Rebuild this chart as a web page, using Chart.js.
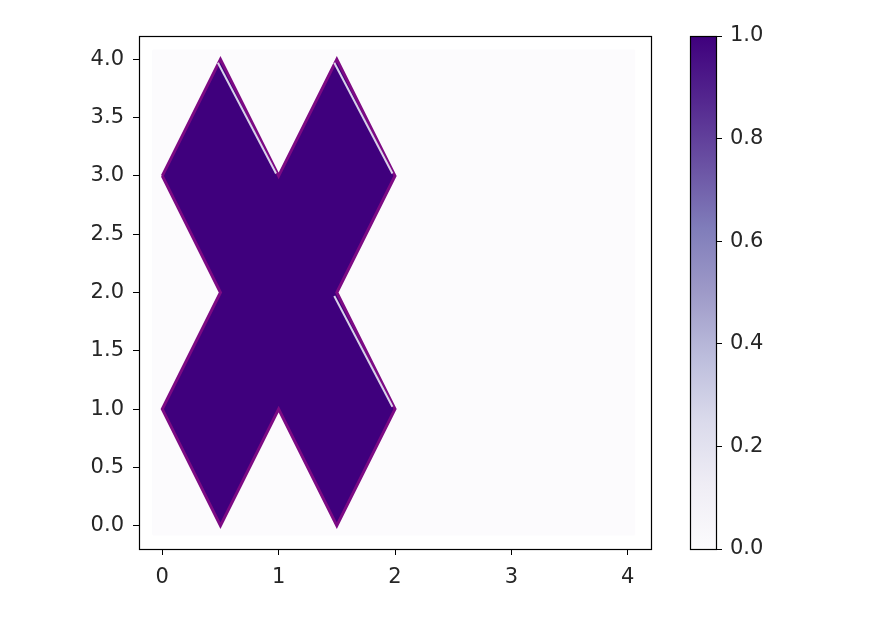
<!DOCTYPE html>
<html>
<head>
<meta charset="utf-8">
<script src="https://cdn.jsdelivr.net/npm/chart.js@4.4.0/dist/chart.umd.min.js"></script>
<style>
    html, body { margin: 0; padding: 0; background: #fff; }
    #wrap { position: relative; width: 877px; height: 625px; }
    canvas { position: absolute; top: 0; }
    #main { left: 0; }
    #cbar { left: 600px; }
</style>
</head>
<body>
<div id="wrap">
    <canvas id="main" width="877" height="625"></canvas>
    <canvas id="cbar" width="277" height="625"></canvas>
</div>
<script>
// X shape outline (data coords), walked round clockwise from the top-left corner
const shapeX = [0, 0.5, 1, 1.5, 2, 1.5, 2, 1.5, 1, 0.5, 0, 0.5, 0];
const shapeY = [3, 4, 3, 4, 3, 2, 1, 0, 1, 0, 1, 2, 3];

// field extent (value ~0 region)
const fieldX = [-0.08, 4.06, 4.06, -0.08, -0.08];
const fieldY = [-0.08, -0.08, 4.08, 4.08, -0.08];

// edges that show a pale highlight just inside the fill
const highlightEdges = [[1, 2], [3, 4], [5, 6]];

// tick positions / labels
const xTicks = [0, 1, 2, 3, 4];
const yTicks = [0, 0.5, 1, 1.5, 2, 2.5, 3, 3.5, 4];
const cbarTicks = [0, 0.2, 0.4, 0.6, 0.8, 1.0];

// Purples colormap
const purples = ['#fcfbfd', '#efedf5', '#dadaeb', '#bcbddc', '#9e9ac8', '#807dba', '#6a51a3', '#54278f', '#3f007d'];

const FONT = { family: 'DejaVu Sans', size: 21 };
const TEXT = '#262626';

function toPoints(xs, ys) {
    return xs.map(function(x, i) { return { x: x, y: ys[i] }; });
}

// highlight segments, nudged just inside the shape edge
const highlightSets = highlightEdges.map(function(e) {
    return {
        data: [
            { x: shapeX[e[0]] - 0.022, y: shapeY[e[0]] - 0.03 },
            { x: shapeX[e[1]] - 0.022, y: shapeY[e[1]] + 0.02 }
        ],
        order: 1,
        showLine: true,
        borderColor: 'rgba(225,222,240,0.95)',
        borderWidth: 2,
        pointRadius: 0,
        fill: false
    };
});

const framePlugin = {
    id: 'frame',
    afterDraw: function(chart) {
        const a = chart.chartArea;
        const ctx = chart.ctx;
        ctx.save();
        ctx.strokeStyle = '#000';
        ctx.lineWidth = 1.2;
        ctx.strokeRect(Math.round(a.left) + 0.5, Math.round(a.top) + 0.5,
            Math.round(a.right - a.left), Math.round(a.bottom - a.top));
        ctx.restore();
    }
};

new Chart(document.getElementById('main'), {
    type: 'scatter',
    data: {
        datasets: [
            {
                data: toPoints(fieldX, fieldY),
                order: 10,
                showLine: true,
                fill: 'shape',
                backgroundColor: purples[0],
                borderColor: purples[0],
                borderWidth: 1,
                pointRadius: 0
            },
            {
                data: toPoints(shapeX, shapeY),
                order: 5,
                showLine: true,
                fill: 'shape',
                backgroundColor: purples[8],
                borderColor: '#7d0a84',
                borderWidth: 3,
                pointRadius: 0
            }
        ].concat(highlightSets)
    },
    options: {
        responsive: false,
        animation: false,
        layout: { padding: { left: 0, top: 36, right: 226, bottom: 0 } },
        plugins: { legend: { display: false }, tooltip: { enabled: false } },
        scales: {
            x: {
                type: 'linear',
                min: -0.2,
                max: 4.2,
                afterBuildTicks: function(scale) {
                    scale.ticks = xTicks.map(function(v) { return { value: v }; });
                },
                afterFit: function(scale) { scale.height = 76; },
                ticks: {
                    font: FONT,
                    color: TEXT,
                    padding: 10,
                    maxRotation: 0,
                    callback: function(v) { return String(v); }
                },
                grid: { drawOnChartArea: false, tickLength: 6, tickColor: '#000', tickWidth: 1 },
                border: { display: true, color: '#000', width: 1 }
            },
            y: {
                type: 'linear',
                min: -0.2,
                max: 4.2,
                afterBuildTicks: function(scale) {
                    scale.ticks = yTicks.map(function(v) { return { value: v }; });
                },
                afterFit: function(scale) { scale.width = 139; },
                ticks: {
                    font: FONT,
                    color: TEXT,
                    padding: 9,
                    callback: function(v) { return Number(v).toFixed(1); }
                },
                grid: { drawOnChartArea: false, tickLength: 6, tickColor: '#000', tickWidth: 1 },
                border: { display: true, color: '#000', width: 1 }
            }
        }
    },
    plugins: [framePlugin]
});

const gradientPlugin = {
    id: 'cmap',
    beforeDatasetsDraw: function(chart) {
        const a = chart.chartArea;
        const ctx = chart.ctx;
        const g = ctx.createLinearGradient(0, a.bottom, 0, a.top);
        purples.forEach(function(c, i) { g.addColorStop(i / (purples.length - 1), c); });
        ctx.save();
        ctx.fillStyle = g;
        ctx.fillRect(a.left, a.top, a.right - a.left, a.bottom - a.top);
        ctx.restore();
    }
};

new Chart(document.getElementById('cbar'), {
    type: 'scatter',
    data: { datasets: [{ data: [], pointRadius: 0 }] },
    options: {
        responsive: false,
        animation: false,
        layout: { padding: { left: 90, top: 36, right: 0, bottom: 76 } },
        plugins: { legend: { display: false }, tooltip: { enabled: false } },
        scales: {
            x: { display: false, min: 0, max: 1 },
            y: {
                position: 'right',
                min: 0,
                max: 1,
                afterBuildTicks: function(scale) {
                    scale.ticks = cbarTicks.map(function(v) { return { value: v }; });
                },
                afterFit: function(scale) { scale.width = 161; },
                ticks: {
                    font: FONT,
                    color: TEXT,
                    padding: 8,
                    callback: function(v) { return Number(v).toFixed(1); }
                },
                grid: { drawOnChartArea: false, tickLength: 6, tickColor: '#000', tickWidth: 1 },
                border: { display: true, color: '#000', width: 1 }
            }
        }
    },
    plugins: [gradientPlugin, framePlugin]
});
</script>
</body>
</html>
